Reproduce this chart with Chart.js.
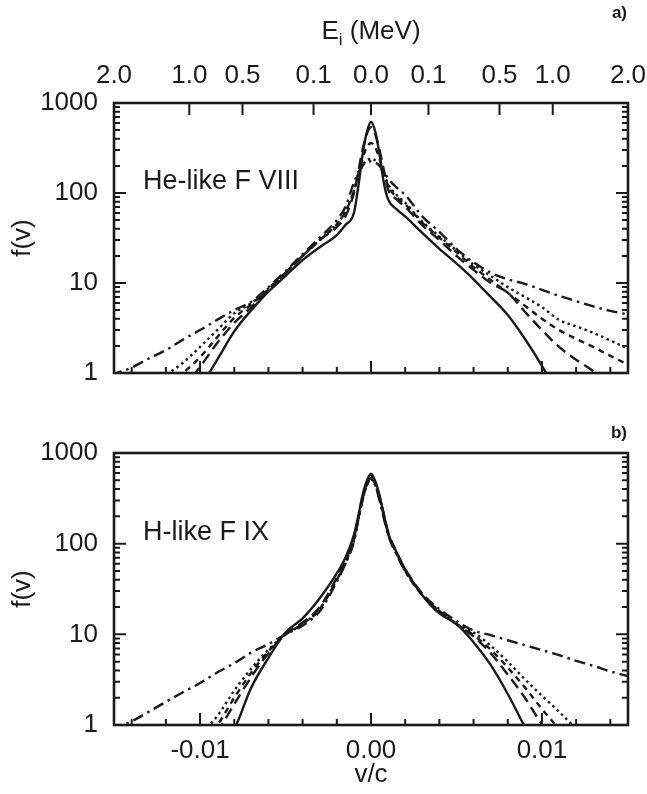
<!DOCTYPE html>
<html>
<head>
<meta charset="utf-8">
<script src="https://cdn.jsdelivr.net/npm/chart.js@4.4.1/dist/chart.umd.min.js"></script>
<style>
  html, body { margin: 0; padding: 0; background: #fff; }
  #wrap { position: relative; width: 647px; height: 794px; }
  canvas { position: absolute; left: 0; }
  #chartA { top: 0; }
  #chartB { top: 400px; }
</style>
</head>
<body>
<div id="wrap">
  <canvas id="chartA" width="647" height="400"></canvas>
  <canvas id="chartB" width="647" height="394"></canvas>
</div>
<script>
// v/c sample points, shared by every curve
var vGrid = [-0.0152, -0.014, -0.013, -0.012, -0.011, -0.010, -0.009, -0.008, -0.007, -0.006,
  -0.005, -0.004, -0.003, -0.002, -0.0015, -0.001, -0.00075, -0.0005, -0.00025, 0,
  0.00025, 0.0005, 0.00075, 0.001, 0.0015, 0.002, 0.003, 0.004, 0.005, 0.006,
  0.007, 0.008, 0.009, 0.010, 0.011, 0.012, 0.013, 0.014, 0.0152];

// a) He-like F VIII
var solidA = [0.02, 0.05, 0.1, 0.2, 0.4, 0.7, 1.4, 2.9, 5.0, 8,
  12, 18, 25, 34, 44, 60, 115, 260, 470, 620,
  480, 270, 130, 85, 66, 55, 36, 24, 16.5, 11,
  7, 4.4, 2.4, 1.2, 0.55, 0.25, 0.1, 0.05, 0.02];
var longDashA = [0.1, 0.2, 0.3, 0.45, 0.7, 1.17, 2.15, 3.6, 5.4, 8.5,
  13, 20, 30, 42, 55, 100, 170, 300, 450, 540,
  450, 300, 180, 110, 85, 70, 44, 30, 20, 14,
  10, 7.8, 4.8, 3.0, 1.95, 1.4, 1.05, 0.75, 0.45];
var shortDashA = [0.2, 0.35, 0.5, 0.7, 1.0, 1.5, 2.5, 4.1, 5.8, 8.5,
  13, 20, 30, 45, 62, 105, 160, 240, 320, 360,
  320, 240, 170, 120, 90, 75, 47, 32, 22, 15,
  10.8, 7.8, 5.6, 4.0, 3.0, 2.4, 1.95, 1.55, 1.2];
var dottedA = [0.3, 0.5, 0.7, 0.95, 1.3, 1.95, 3.0, 4.6, 6, 8.7,
  13, 20, 30, 45, 62, 105, 150, 200, 230, 240,
  230, 200, 160, 125, 95, 78, 48, 33, 23, 16,
  12, 9, 7, 5.4, 3.9, 3.3, 2.8, 2.3, 1.8];
var dashDotA = [0.95, 1.15, 1.45, 1.8, 2.35, 3.0, 3.9, 5, 6.2, 9,
  13.5, 21, 32, 50, 70, 130, 170, 200, 220, 225,
  220, 200, 175, 145, 115, 95, 55, 37, 24, 17,
  13, 11, 9.8, 8.4, 7.2, 6.3, 5.5, 4.9, 4.4];

// b) H-like F IX
var solidB = [0.005, 0.01, 0.03, 0.06, 0.12, 0.25, 0.5, 0.9, 2.6, 5.5,
  10.5, 15, 25, 47, 70, 125, 200, 340, 490, 590,
  490, 340, 210, 130, 80, 52, 27, 17, 13, 8.2,
  4.6, 2.2, 0.95, 0.4, 0.18, 0.08, 0.03, 0.01, 0.005];
var longDashB = [0.05, 0.08, 0.12, 0.2, 0.35, 0.55, 0.85, 1.7, 3.4, 6.2,
  10, 13.5, 20, 42, 65, 115, 190, 320, 460, 560,
  470, 330, 210, 135, 80, 52, 28, 18, 13, 9.5,
  6.2, 3.6, 2.0, 1.0, 0.5, 0.25, 0.12, 0.06, 0.03];
var shortDashB = [0.1, 0.15, 0.22, 0.35, 0.5, 0.7, 1.0, 2.0, 3.8, 6.5,
  10, 13, 19, 40, 62, 110, 185, 310, 440, 530,
  450, 320, 205, 130, 78, 50, 27, 18, 13, 9.8,
  6.8, 4.3, 2.6, 1.5, 0.9, 0.5, 0.3, 0.18, 0.1];
var dottedB = [0.15, 0.22, 0.32, 0.45, 0.6, 0.8, 1.25, 2.4, 4.2, 6.8,
  10, 13, 19, 40, 60, 108, 180, 300, 430, 510,
  440, 310, 200, 128, 78, 50, 27, 18, 13, 10.5,
  7.5, 5.0, 3.2, 2.1, 1.4, 0.9, 0.55, 0.35, 0.2];
var dashDotB = [0.92, 1.1, 1.4, 1.8, 2.3, 2.9, 3.8, 4.8, 6.3, 7.8,
  10, 12.5, 18, 38, 60, 105, 180, 300, 440, 530,
  440, 300, 190, 125, 76, 50, 28, 19, 14, 11,
  9.8, 8.6, 7.6, 6.7, 5.9, 5.1, 4.5, 3.9, 3.4];

// top axis of panel a: ion energy in MeV, signed by side of v = 0
var energyTicks = [-2.0, -1.0, -0.5, -0.1, 0.0, 0.1, 0.5, 1.0, 2.0];
var yTicks = [1, 10, 100, 1000];
var vTicks = [-0.01, 0, 0.01];

var ionMc2 = 18.998 * 931.494;     // F ion rest energy, MeV
var vMax = Math.sqrt(2 * 2.0 / ionMc2);
function vOfE(e) { return Math.sign(e) * Math.sqrt(2 * Math.abs(e) / ionMc2); }

var ink = '#1a1a1a';
var family = "'Liberation Sans', Arial, Helvetica, sans-serif";
var tickFont = { family: family, size: 26 };

var styles = [
  { dash: [] },
  { dash: [11, 6] },
  { dash: [6, 5] },
  { dash: [2.5, 3.5] },
  { dash: [11, 5, 2.5, 5] }
];

function makeSets(series) {
  return series.map(function(arr, i) {
    return {
      data: vGrid.map(function(v, k) { return { x: v, y: arr[k] }; }),
      borderColor: ink,
      borderWidth: 2.4,
      borderDash: styles[i].dash,
      pointRadius: 0,
      cubicInterpolationMode: 'monotone',
      fill: false
    };
  });
}

// frame and inward tick marks
var frameTicks = {
  id: 'frameTicks',
  afterDatasetsDraw: function(chart, args, opts) {
    var ctx = chart.ctx, a = chart.chartArea;
    var x = chart.scales.x, y = chart.scales.y;
    ctx.save();
    ctx.strokeStyle = ink;
    ctx.lineWidth = 2;
    ctx.beginPath();
    for (var k = -7; k <= 7; k++) {
      var px = x.getPixelForValue(k * 0.002);
      var len = (k % 5 === 0) ? 12 : 6;
      ctx.moveTo(px, a.bottom); ctx.lineTo(px, a.bottom - len);
    }
    for (var d = 0; d < 3; d++) {
      for (var m = 1; m <= 9; m++) {
        var py = y.getPixelForValue(m * Math.pow(10, d));
        var l2 = (m === 1) ? 12 : 6;
        ctx.moveTo(a.left, py); ctx.lineTo(a.left + l2, py);
        ctx.moveTo(a.right, py); ctx.lineTo(a.right - l2, py);
      }
    }
    if (opts.topTicks) {
      energyTicks.slice(1, -1).forEach(function(e) {
        var tx = x.getPixelForValue(vOfE(e));
        ctx.moveTo(tx, a.top); ctx.lineTo(tx, a.top + 12);
      });
    }
    ctx.stroke();
    ctx.lineWidth = 2.6;
    ctx.strokeRect(a.left, a.top, a.right - a.left, a.bottom - a.top);
    ctx.restore();
  }
};

// free text: panel names, panel letters, E_i axis title
var labels = {
  id: 'labels',
  afterDraw: function(chart, args, opts) {
    var ctx = chart.ctx, a = chart.chartArea;
    ctx.save();
    ctx.fillStyle = ink;
    ctx.textBaseline = 'middle';
    ctx.font = '27px ' + family;
    ctx.textAlign = 'left';
    ctx.fillText(opts.name, a.left + 29, opts.nameY);
    ctx.font = 'bold 17px ' + family;
    ctx.textAlign = 'right';
    ctx.fillText(opts.letter, a.right - 1, opts.letterY);
    if (opts.eTitle) {
      ctx.textAlign = 'left';
      ctx.textBaseline = 'alphabetic';
      ctx.font = '26px ' + family;
      var wE = ctx.measureText('E').width;
      var wR = ctx.measureText(' (MeV)').width;
      ctx.font = '17px ' + family;
      var wI = ctx.measureText('i').width;
      var x0 = (a.left + a.right) / 2 - (wE + wI + wR) / 2;
      ctx.font = '26px ' + family;
      ctx.fillText('E', x0, 39);
      ctx.fillText(' (MeV)', x0 + wE + wI, 39);
      ctx.font = '17px ' + family;
      ctx.fillText('i', x0 + wE, 45);
    }
    ctx.restore();
  }
};

function noSidePad(s) { s.paddingLeft = 0; s.paddingRight = 0; }

function yScale() {
  return {
    type: 'logarithmic',
    position: 'left',
    min: 1,
    max: 1000,
    grid: { display: false },
    border: { display: false },
    afterBuildTicks: function(s) { s.ticks = yTicks.map(function(v) { return { value: v }; }); },
    afterFit: function(s) { s.width = 114; s.paddingTop = 0; s.paddingBottom = 0; },
    ticks: { font: tickFont, color: ink, padding: 8, callback: function(v) { return String(v); } },
    title: { display: true, text: 'f(v)', font: tickFont, color: ink, padding: { top: 7, bottom: 0 } }
  };
}

Chart.defaults.font.family = family;

new Chart('chartA', {
  type: 'line',
  data: { datasets: makeSets([solidA, longDashA, shortDashA, dottedA, dashDotA]) },
  options: {
    responsive: false,
    animation: false,
    devicePixelRatio: 1,
    layout: { padding: { top: 0, right: 19, bottom: 0, left: 0 } },
    plugins: {
      legend: { display: false },
      tooltip: { enabled: false },
      frameTicks: { topTicks: true },
      labels: { name: 'He-like F VIII', nameY: 182, letter: 'a)', letterY: 13, eTitle: true }
    },
    scales: {
      xTop: {
        type: 'linear',
        position: 'top',
        min: -vMax,
        max: vMax,
        grid: { display: false },
        border: { display: false },
        afterBuildTicks: function(s) { s.ticks = energyTicks.map(function(e) { return { value: vOfE(e) }; }); },
        afterFit: function(s) { s.height = 103; noSidePad(s); },
        ticks: {
          font: tickFont, color: ink, padding: 4, autoSkip: false, maxRotation: 0,
          callback: function(v, i) { return Math.abs(energyTicks[i]).toFixed(1); }
        }
      },
      x: {
        type: 'linear',
        position: 'bottom',
        min: -vMax,
        max: vMax,
        grid: { display: false },
        border: { display: false },
        ticks: { display: false },
        afterFit: function(s) { s.height = 27; noSidePad(s); }
      },
      y: yScale()
    }
  },
  plugins: [frameTicks, labels]
});

new Chart('chartB', {
  type: 'line',
  data: { datasets: makeSets([solidB, longDashB, shortDashB, dottedB, dashDotB]) },
  options: {
    responsive: false,
    animation: false,
    devicePixelRatio: 1,
    layout: { padding: { top: 53, right: 19, bottom: 0, left: 0 } },
    plugins: {
      legend: { display: false },
      tooltip: { enabled: false },
      frameTicks: { topTicks: false },
      labels: { name: 'H-like F IX', nameY: 133, letter: 'b)', letterY: 33, eTitle: false }
    },
    scales: {
      x: {
        type: 'linear',
        position: 'bottom',
        min: -vMax,
        max: vMax,
        grid: { display: false },
        border: { display: false },
        afterBuildTicks: function(s) { s.ticks = vTicks.map(function(v) { return { value: v }; }); },
        afterFit: function(s) { s.height = 69; noSidePad(s); },
        ticks: {
          font: tickFont, color: ink, padding: 2, autoSkip: false, maxRotation: 0,
          callback: function(v) { return v.toFixed(2); }
        },
        title: { display: true, text: 'v/c', font: tickFont, color: ink, padding: { top: 0, bottom: 4 } }
      },
      y: yScale()
    }
  },
  plugins: [frameTicks, labels]
});
</script>
</body>
</html>
